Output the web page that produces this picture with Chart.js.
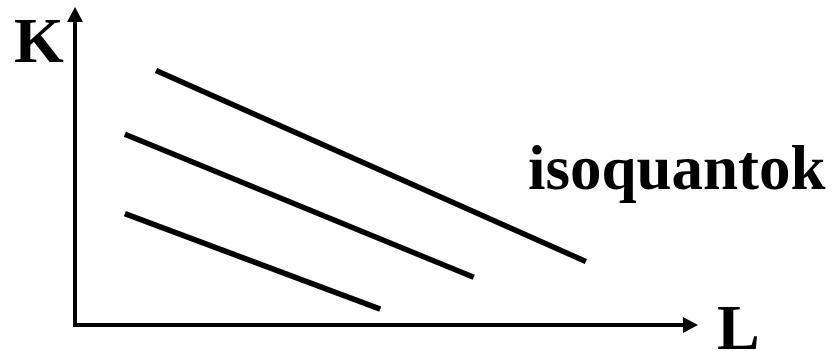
<!DOCTYPE html>
<html>
<head>
<meta charset="utf-8">
<script src="https://cdn.jsdelivr.net/npm/chart.js@4"></script>
<style>
  html, body { margin: 0; padding: 0; background: #fff; }
  #wrap { width: 835px; height: 351px; }
</style>
</head>
<body>
<div id="wrap"><canvas id="myChart"></canvas></div>
<script>
// isoquant lines, each from start to end point (L, K)
let iso1 = [{x: 1.3, y: 8.0}, {x: 8.2, y: 2.0}];
let iso2 = [{x: 0.8, y: 6.0}, {x: 6.4, y: 1.5}];
let iso3 = [{x: 0.8, y: 3.5}, {x: 4.9, y: 0.5}];

let xLabel = 'L';
let yLabel = 'K';
let curveLabel = 'isoquantok';
let curveLabelPos = {x: 7.27, y: 4.28};

let font = 'bold 64px "Liberation Serif", "Times New Roman", serif';
let curveFont = 'bold 63px "Liberation Serif", "Times New Roman", serif';

// axes with arrow heads + text labels
let axesPlugin = {
    id: 'axes',
    afterDraw(chart) {
        let ctx = chart.ctx;
        let a = chart.chartArea;
        let sx = chart.scales.x;
        let sy = chart.scales.y;
        let ox = sx.getPixelForValue(0);
        let oy = sy.getPixelForValue(0);

        ctx.save();
        ctx.strokeStyle = '#000';
        ctx.fillStyle = '#000';
        ctx.lineWidth = 4;

        // y axis
        ctx.beginPath();
        ctx.moveTo(ox, oy + 2);
        ctx.lineTo(ox, a.top + 14);
        ctx.stroke();
        ctx.beginPath();
        ctx.moveTo(ox, a.top);
        ctx.lineTo(ox - 8, a.top + 15);
        ctx.lineTo(ox + 8, a.top + 15);
        ctx.closePath();
        ctx.fill();

        // x axis
        ctx.beginPath();
        ctx.moveTo(ox - 2, oy);
        ctx.lineTo(a.right - 14, oy);
        ctx.stroke();
        ctx.beginPath();
        ctx.moveTo(a.right, oy);
        ctx.lineTo(a.right - 15, oy - 8);
        ctx.lineTo(a.right - 15, oy + 8);
        ctx.closePath();
        ctx.fill();

        ctx.font = font;
        ctx.textBaseline = 'alphabetic';
        ctx.textAlign = 'left';
        ctx.fillText(yLabel, ox - 61, a.top + 55);
        ctx.fillText(xLabel, a.right + 19, oy + 24);
        ctx.font = curveFont;
        ctx.fillText(curveLabel, sx.getPixelForValue(curveLabelPos.x), sy.getPixelForValue(curveLabelPos.y));
        ctx.restore();
    }
};

function lineSet(pts) {
    return {
        data: pts,
        showLine: true,
        borderColor: '#000',
        borderWidth: 5.5,
        borderCapStyle: 'butt',
        pointRadius: 0,
        fill: false
    };
}

let chart1 = new Chart(document.getElementById('myChart').getContext('2d'), {
    type: 'scatter',
    data: {
        datasets: [lineSet(iso1), lineSet(iso2), lineSet(iso3)]
    },
    options: {
        responsive: true,
        maintainAspectRatio: false,
        animation: false,
        layout: {
            padding: { left: 75, right: 137, top: 7, bottom: 26 }
        },
        plugins: {
            legend: { display: false },
            tooltip: { enabled: false }
        },
        scales: {
            x: { type: 'linear', min: 0, max: 10, display: false },
            y: { type: 'linear', min: 0, max: 10, display: false }
        }
    },
    plugins: [axesPlugin]
});
</script>
</body>
</html>
